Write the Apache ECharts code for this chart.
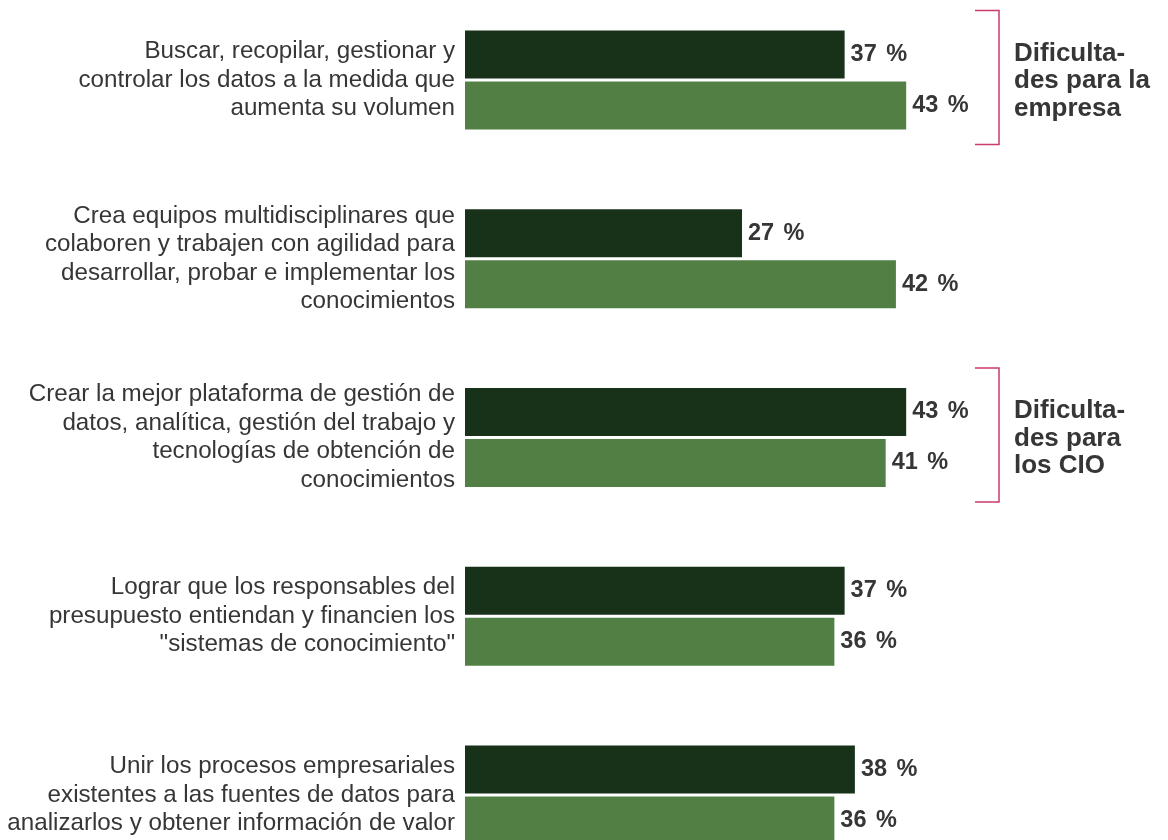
<!DOCTYPE html>
<html>
<head>
<meta charset="utf-8">
<script src="https://cdn.jsdelivr.net/npm/echarts@6/dist/echarts.min.js"></script>
<style>
html,body{margin:0;padding:0;background:#fff;overflow:hidden;width:1168px;height:840px;}
#chart{width:1168px;height:920px;margin-top:-20px;}
</style>
</head>
<body>
<div id="chart"></div>
<script>
const categories = [
  'Buscar, recopilar, gestionar y\ncontrolar los datos a la medida que\naumenta su volumen',
  'Crea equipos multidisciplinares que\ncolaboren y trabajen con agilidad para\ndesarrollar, probar e implementar los\nconocimientos',
  'Crear la mejor plataforma de gestión de\ndatos, analítica, gestión del trabajo y\ntecnologías de obtención de\nconocimientos',
  'Lograr que los responsables del\npresupuesto entiendan y financien los\n"sistemas de conocimiento"',
  'Unir los procesos empresariales\nexistentes a las fuentes de datos para\nanalizarlos y obtener información de valor'
];
const seriesDark = [37, 27, 43, 37, 38];
const seriesLight = [43, 42, 41, 36, 36];
const brackets = [
  { index: 0, text: 'Dificulta-\ndes para la\nempresa' },
  { index: 2, text: 'Dificulta-\ndes para\nlos CIO' }
];

const FONT = '"Liberation Sans", Arial, Helvetica, sans-serif';
const TEXT = '#363636';
const chart = echarts.init(document.getElementById('chart'));

const labelOpt = {
  show: true,
  position: 'right',
  distance: 6,
  formatter: p => p.value + '\u2009\u2009%',
  fontFamily: FONT,
  fontSize: 23.5,
  fontWeight: 'bold',
  color: TEXT
};

chart.setOption({
  animation: false,
  grid: { left: 465, top: 10.6, width: 615.6, height: 893.75, containLabel: false },
  xAxis: {
    type: 'value', min: 0, max: 60,
    show: false
  },
  yAxis: {
    type: 'category',
    data: categories,
    inverse: true,
    axisLine: { show: false },
    axisTick: { show: false },
    axisLabel: {
      margin: 10,
      fontFamily: FONT,
      fontSize: 24.2,
      lineHeight: 28.5,
      color: TEXT,
      align: 'right'
    }
  },
  series: [
    {
      type: 'bar', data: seriesDark, barWidth: 48, barGap: '6.25%',
      itemStyle: { color: '#173219' }, label: labelOpt
    },
    {
      type: 'bar', data: seriesLight, barWidth: 48,
      itemStyle: { color: '#528044' }, label: labelOpt
    }
  ]
});

function drawBrackets() {
  const els = [];
  brackets.forEach((b) => {
    const cy = chart.convertToPixel({ yAxisIndex: 0 }, b.index);
    const top = cy - 69.5, bot = cy + 64.5;
    els.push({
      type: 'polyline',
      shape: { points: [[975, top], [999, top], [999, bot], [975, bot]] },
      style: { stroke: '#c93a6d', lineWidth: 1.5, fill: null }
    });
    els.push({
      type: 'text',
      x: 1014, y: cy + 1,
      style: {
        text: b.text, fontFamily: FONT, fontSize: 26, fontWeight: 'bold',
        lineHeight: 27.5, fill: TEXT, verticalAlign: 'middle', align: 'left'
      }
    });
  });
  chart.setOption({ graphic: els });
}
drawBrackets();
</script>
</body>
</html>
